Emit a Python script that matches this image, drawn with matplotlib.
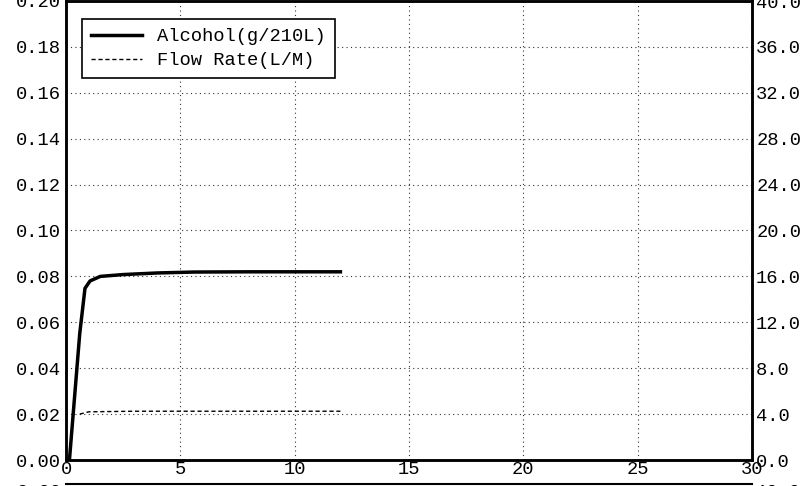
import matplotlib.pyplot as plt
from matplotlib.ticker import FormatStrFormatter, MultipleLocator

# breath test trace
time_s = [0.15, 0.6, 0.83, 1.05, 1.5, 2.5, 4.0, 5.6, 8.0, 10.0, 12.0]
alcohol = [0.0, 0.055, 0.0748, 0.078, 0.0800, 0.0808, 0.0815, 0.0819, 0.0820, 0.0820, 0.0820]

flow_time = [0.6, 1.0, 3.0, 6.0, 9.0, 12.0]
flow_rate = [4.0, 4.2, 4.25, 4.25, 4.25, 4.25]

mono = 'Liberation Mono'
fs = 13.5

fig = plt.figure(figsize=(8.01, 4.86), dpi=100)
ax = fig.add_axes([66 / 801, 26 / 486, 686 / 801, 459 / 486])
ax2 = ax.twinx()

ax.set_xlim(0, 30)
ax.set_ylim(0, 0.20)
ax2.set_ylim(0, 40)

ax.xaxis.set_major_locator(MultipleLocator(5))
ax.yaxis.set_major_locator(MultipleLocator(0.02))
ax2.yaxis.set_major_locator(MultipleLocator(4))
ax.yaxis.set_major_formatter(FormatStrFormatter('%.2f'))
ax2.yaxis.set_major_formatter(FormatStrFormatter('%.1f'))

ax.grid(True, color='#333333', linestyle=(0, (1, 3)), linewidth=0.8)

l1, = ax.plot(time_s, alcohol, color='black', linewidth=2.5, label='Alcohol(g/210L)')
l2, = ax2.plot(flow_time, flow_rate, color='black', linewidth=1.0,
               linestyle=(0, (3, 2)), label='Flow Rate(L/M)')

for a in (ax, ax2):
    for s in a.spines.values():
        s.set_linewidth(1.8)
    a.tick_params(length=0, labelsize=fs)
    for t in a.get_xticklabels() + a.get_yticklabels():
        t.set_family(mono)
ax.tick_params(axis='y', pad=4)
ax.tick_params(axis='x', pad=1)
ax2.tick_params(axis='y', pad=3)

leg = ax2.legend(handles=[l1, l2], loc='upper left', bbox_to_anchor=(0.023, 0.961),
                 borderaxespad=0, fancybox=False, edgecolor='black', framealpha=1,
                 prop={'family': mono, 'size': fs}, handlelength=2.7,
                 labelspacing=0.35, borderpad=0.5, handletextpad=0.8)
leg.get_frame().set_linewidth(1.2)

# top edge of the next panel on the printout, cut off by the scan
fig.add_artist(plt.Line2D([66 / 801, 752 / 801], [2 / 486, 2 / 486], color='black', linewidth=1.5))
fig.text(62 / 801, -6 / 486, '0.20', ha='right', va='center', family=mono, fontsize=fs)
fig.text(755 / 801, -6 / 486, '40.0', ha='left', va='center', family=mono, fontsize=fs)

fig.savefig('out.png', dpi=100)
